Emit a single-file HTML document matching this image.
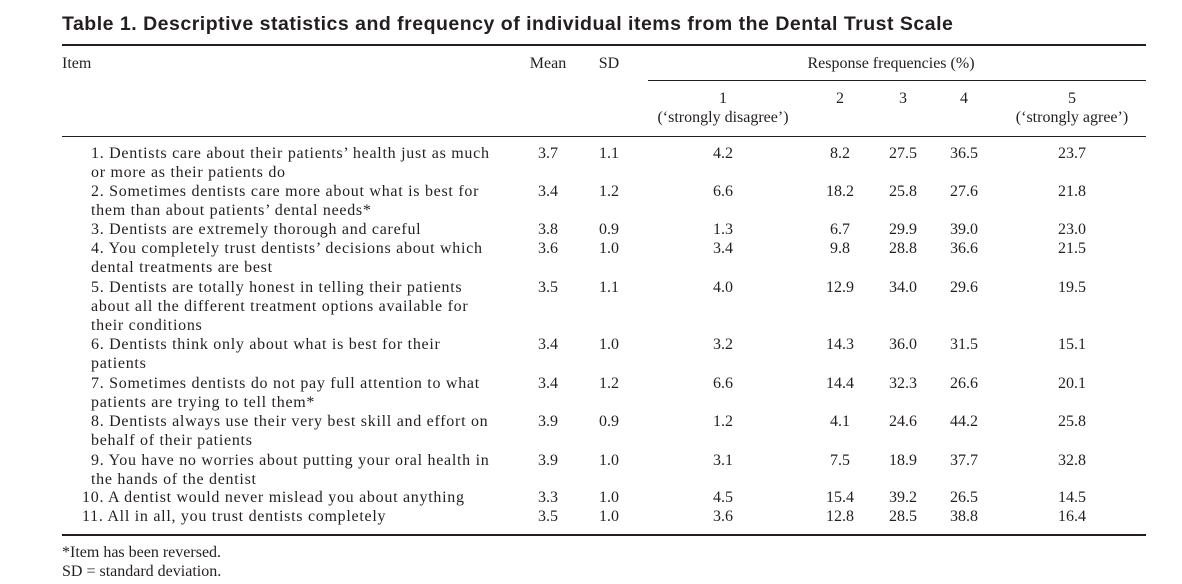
<!DOCTYPE html>
<html><head><meta charset="utf-8">
<style>
body{margin:0;width:1182px;height:584px;background:#fff;position:relative;overflow:hidden;font-family:"Liberation Serif",serif;color:#231f20}
.t{position:absolute;white-space:nowrap;font-size:16px;line-height:19px}
.it{letter-spacing:0.72px}
.c{position:absolute;width:80px;text-align:center;font-size:16px;line-height:19px}
.r{position:absolute;background:#231f20}
</style></head><body>
<div class="t" style="left:62px;top:11px;font-family:'Liberation Sans',sans-serif;font-weight:bold;font-size:19.5px;line-height:26px;letter-spacing:0.5px">Table 1. Descriptive statistics and frequency of individual items from the Dental Trust Scale</div>
<div class="r" style="left:62px;top:44px;width:1084px;height:2px"></div>
<div class="t" style="left:62px;top:54px">Item</div>
<div class="c" style="left:508px;top:54px">Mean</div>
<div class="c" style="left:569px;top:54px">SD</div>
<div class="c" style="left:741px;top:54px;width:300px">Response frequencies (%)</div>
<div class="r" style="left:648px;top:80px;width:498px;height:1px"></div>
<div class="c" style="left:623px;top:89px;width:200px">1<br>(‘strongly disagree’)</div>
<div class="c" style="left:800px;top:89px">2</div>
<div class="c" style="left:863px;top:89px">3</div>
<div class="c" style="left:924px;top:89px">4</div>
<div class="c" style="left:972px;top:89px;width:200px">5<br>(‘strongly agree’)</div>
<div class="r" style="left:62px;top:136px;width:1084px;height:1px"></div>
<div id="rows"></div>
<div class="r" style="left:62px;top:534px;width:1084px;height:2px"></div>
<div class="t" style="left:62px;top:543px">*Item has been reversed.</div>
<div class="t" style="left:62px;top:562px">SD = standard deviation.</div>
<script>
const items=[
["1. Dentists care about their patients’ health just as much","or more as their patients do"],
["2. Sometimes dentists care more about what is best for","them than about patients’ dental needs*"],
["3. Dentists are extremely thorough and careful"],
["4. You completely trust dentists’ decisions about which","dental treatments are best"],
["5. Dentists are totally honest in telling their patients","about all the different treatment options available for","their conditions"],
["6. Dentists think only about what is best for their","patients"],
["7. Sometimes dentists do not pay full attention to what","patients are trying to tell them*"],
["8. Dentists always use their very best skill and effort on","behalf of their patients"],
["9. You have no worries about putting your oral health in","the hands of the dentist"],
["10. A dentist would never mislead you about anything"],
["11. All in all, you trust dentists completely"]];
const means=["3.7","3.4","3.8","3.6","3.5","3.4","3.4","3.9","3.9","3.3","3.5"];
const sds=["1.1","1.2","0.9","1.0","1.1","1.0","1.2","0.9","1.0","1.0","1.0"];
const f1=["4.2","6.6","1.3","3.4","4.0","3.2","6.6","1.2","3.1","4.5","3.6"];
const f2=["8.2","18.2","6.7","9.8","12.9","14.3","14.4","4.1","7.5","15.4","12.8"];
const f3=["27.5","25.8","29.9","28.8","34.0","36.0","32.3","24.6","18.9","39.2","28.5"];
const f4=["36.5","27.6","39.0","36.6","29.6","31.5","26.6","44.2","37.7","26.5","38.8"];
const f5=["23.7","21.8","23.0","21.5","19.5","15.1","20.1","25.8","32.8","14.5","16.4"];
const tops=[144,182,220,239,278,335,374,412,451,488,507];
const cols=[[508,means],[569,sds],[683,f1],[800,f2],[863,f3],[924,f4],[1032,f5]];
const root=document.getElementById('rows');
items.forEach((lines,i)=>{
  const left=i>=9?82:91;
  lines.forEach((ln,j)=>{
    const d=document.createElement('div');
    d.className='t it';
    
    
    d.style.left=(j?91:left)+'px';d.style.top=(tops[i]+j*19)+'px';
    d.textContent=ln;root.appendChild(d);
  });
  cols.forEach(([x,arr],k)=>{
    const d=document.createElement('div');
    d.className='c';
    
    
    d.style.left=x+'px';d.style.top=tops[i]+'px';
    d.textContent=arr[i];root.appendChild(d);
  });
});
</script>
</body></html>
